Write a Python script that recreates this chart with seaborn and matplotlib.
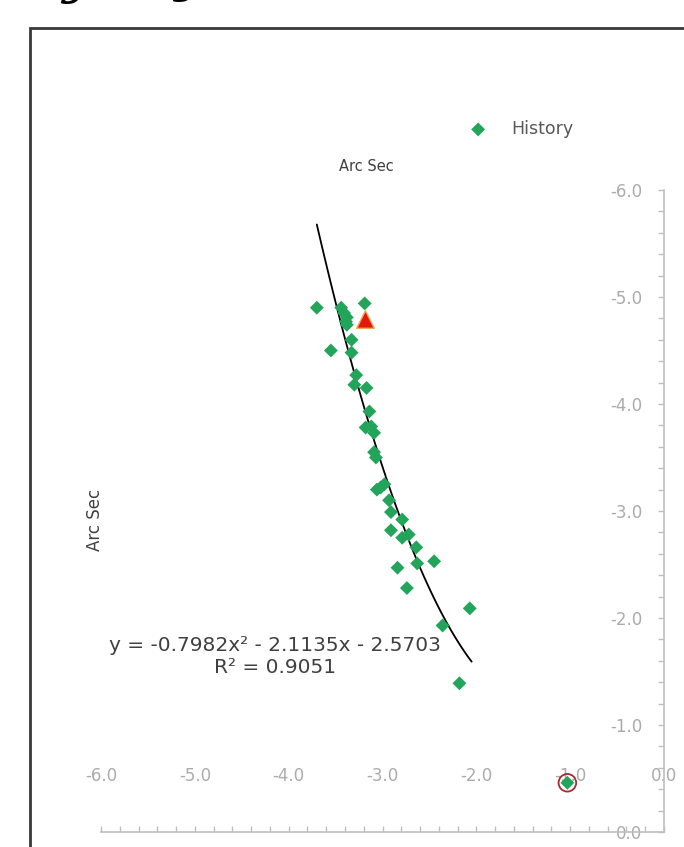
"""
Arc Sec scatter with quadratic trendline (Excel-style, reversed axes).
"""

import matplotlib

matplotlib.use("Agg")
import matplotlib.pyplot as plt
import numpy as np
import pandas as pd
import seaborn as sns
from matplotlib.patches import Rectangle
from matplotlib.ticker import FormatStrFormatter, MultipleLocator

# History points (x, y in arc sec)
hist_x = [
    -3.70, -3.55, -3.44, -3.41, -3.38, -3.39, -3.38, -3.19, -3.33, -3.33,
    -3.28, -3.30, -3.17, -3.14, -3.18, -3.12, -3.09, -3.09, -3.07, -3.02,
    -3.06, -2.98, -2.93, -2.91, -2.91, -2.79, -2.72, -2.79, -2.64, -2.84,
    -2.63, -2.45, -2.74, -2.07, -2.36, -2.18, -1.03,
]
hist_y = [
    -4.90, -4.50, -4.90, -4.85, -4.81, -4.77, -4.74, -4.94, -4.60, -4.48,
    -4.27, -4.18, -4.15, -3.93, -3.78, -3.79, -3.73, -3.55, -3.50, -3.22,
    -3.20, -3.25, -3.10, -2.99, -2.82, -2.92, -2.78, -2.75, -2.66, -2.47,
    -2.51, -2.53, -2.28, -2.09, -1.93, -1.39, -0.46,
]

# current point (red triangle) and highlighted point (circled)
current_x = [-3.19]
current_y = [-4.79]
circled_x = [-1.03]
circled_y = [-0.46]

# trendline from the displayed equation
trend_coef = [-0.7982, -2.1135, -2.5703]
trend_range = [-3.70, -2.05]
trend_label = "y = -0.7982x\u00b2 - 2.1135x - 2.5703\nR\u00b2 = 0.9051"

sns.set_theme(style="white")
plt.rcParams["font.family"] = ["DejaVu Sans"]
plt.rcParams["axes.unicode_minus"] = False

W, H = 684, 847
fig = plt.figure(figsize=(W / 100, H / 100), dpi=100)
ax = fig.add_axes([101 / W, (H - 832) / H, 563 / W, 642 / H])

df = pd.DataFrame({"x": hist_x, "y": hist_y})
sns.scatterplot(
    data=df, x="x", y="y", ax=ax, marker="D", s=50,
    color="#22A45A", edgecolor="none", label="History", zorder=3,
)
ax.scatter(current_x, current_y, marker="^", s=160, color="#E3170A",
           edgecolor="#F2A65A", linewidth=1, zorder=4)
ax.scatter(circled_x, circled_y, marker="o", s=160, facecolor="none",
           edgecolor="#A52A2F", linewidth=1.3, zorder=4)

tx = np.linspace(trend_range[0], trend_range[1], 100)
ax.plot(tx, np.polyval(trend_coef, tx), color="black", linewidth=1.3, zorder=2)

ax.text(-4.15, -1.64, trend_label, ha="center", va="center", fontsize=14.5,
        color="#404040", linespacing=1.15)

ax.set_xlim(-6, 0)
ax.set_ylim(0, -6)

# axes styling: y spine at x=0, x axis along y=0
for side in ["top", "right"]:
    ax.spines[side].set_visible(False)
ax.spines["left"].set_position(("data", 0))
for side in ["left", "bottom"]:
    ax.spines[side].set_color("#BFBFBF")
    ax.spines[side].set_linewidth(1.2)

ax.xaxis.set_major_locator(MultipleLocator(1))
ax.xaxis.set_minor_locator(MultipleLocator(0.2))
ax.yaxis.set_major_locator(MultipleLocator(1))
ax.yaxis.set_minor_locator(MultipleLocator(0.2))
ax.xaxis.set_major_formatter(FormatStrFormatter("%.1f"))
ax.yaxis.set_major_formatter(FormatStrFormatter("%.1f"))

ax.tick_params(axis="x", which="both", direction="in", length=4.5, width=1,
               color="#BFBFBF", labelcolor="#ABABAB", labelsize=12,
               pad=-47, bottom=True)
ax.tick_params(axis="y", which="both", direction="out", length=4.5, width=1,
               color="#BFBFBF", labelcolor="#ABABAB", labelsize=12,
               pad=11, left=True)

ax.set_xlabel("")
ax.set_ylabel("Arc Sec", fontsize=12, color="#404040")
ax.yaxis.set_label_coords(0.005, 0.486)
ax.set_title("Arc Sec", fontsize=10.5, color="#404040", x=0.472, pad=14)

handles, labels = ax.get_legend_handles_labels()
ax.legend(handles[:1], labels[:1], loc="center", frameon=False, fontsize=12.5,
          bbox_to_anchor=(517 / W, 1 - 129 / H), bbox_transform=fig.transFigure,
          handletextpad=0.9, labelcolor="#595959")

# chart frame of the screenshot and cropped text above it
fig.patches.append(Rectangle((30 / W, -0.1), 1.0, 1.1 - 28 / H, transform=fig.transFigure,
                             fill=False, edgecolor="#3A3A3A", linewidth=2))
fig.text(62 / W, 1 + 8 / H, "y", fontsize=40, style="italic", family="DejaVu Serif",
         va="baseline", ha="left", color="black")
fig.text(174 / W, 1 + 10 / H, "y", fontsize=40, style="italic", family="DejaVu Serif",
         va="baseline", ha="left", color="black")

fig.savefig("out.png", dpi=100)
